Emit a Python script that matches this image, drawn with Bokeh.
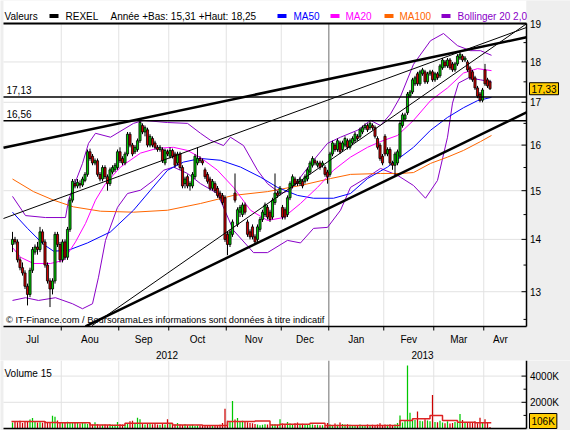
import math
from bokeh.plotting import figure
from bokeh.models import Range1d, Label, BoxAnnotation
from bokeh.layouts import column
from bokeh.embed import file_html
from bokeh.resources import INLINE

FONT = "Liberation Sans"
FS = "10px"
BG = "#eeeeee"
GRID = "#e2e2e2"
GREEN = "#00c800"
RED = "#cc0000"
BLUE = "#0000ff"
MAGENTA = "#ff00ff"
ORANGE = "#ff6600"
PURPLE = "#8a00c8"

# ---------------- categories / ticks ----------------
month_names = ["Jul", "Aou", "Sep", "Oct", "Nov", "Dec", "Jan", "Fev", "Mar", "Avr"]
month_label_pos = [8, 31, 52.5, 74, 96.5, 117, 137.5, 158.5, 178.5, 195.2]
month_start_idx = [20, 43, 63, 86, 108, 127, 149, 169, 189]
year_names = ["2012", "2013"]
year_label_pos = [61.8, 164]
year_start_idx = 127
price_ticks = [13, 14, 15, 16, 17, 18, 19]
price_minor = [12.5, 13.5, 14.5, 15.5, 16.5, 17.5, 18.5]
vol_ticks = [2000000, 4000000]
vol_tick_labels = ["2000K", "4000K"]
vol_minor = [1000000, 3000000]

# ---------------- daily candles (REXEL) ----------------
opens = [13.90, 14.00, 13.95, 13.60, 13.45, 13.35, 13.10, 12.95, 13.40, 13.75,
         13.85, 13.80, 14.15, 13.95, 13.50, 13.20, 13.05, 13.20, 14.10, 13.90,
         13.60, 13.95, 13.65, 14.20, 14.80, 15.15, 15.10, 15.15, 15.12, 15.22,
         15.35, 15.85, 15.75, 15.60, 15.65, 15.35, 15.25, 15.50, 15.30, 15.15,
         15.40, 15.45, 15.50, 15.85, 15.70, 15.60, 15.80, 16.25, 16.00, 15.85,
         15.90, 16.10, 16.45, 16.30, 16.35, 16.00, 16.15, 16.05, 15.95, 15.90,
         15.90, 15.60, 15.85, 15.75, 15.88, 15.80, 15.60, 15.80, 15.50, 15.15,
         15.30, 15.10, 15.10, 15.30, 15.60, 15.70, 15.65, 15.45, 15.35, 15.25,
         15.05, 15.15, 15.05, 14.95, 14.90, 14.85, 14.10, 13.90, 14.10, 14.95,
         14.30, 14.55, 14.50, 14.70, 14.35, 14.15, 14.25, 14.05, 14.00, 14.20,
         14.40, 14.50, 14.65, 14.55, 14.45, 14.75, 14.95, 14.95, 14.65, 14.60,
         14.50, 14.85, 15.10, 15.25, 15.20, 15.15, 15.20, 15.20, 15.25, 15.40,
         15.55, 15.65, 15.55, 15.60, 15.55, 15.50, 15.40, 15.35, 15.80, 16.00,
         15.90, 16.05, 15.90, 16.00, 16.10, 15.95, 16.05, 16.10, 16.20, 16.20,
         16.30, 16.40, 16.45, 16.40, 16.45, 16.40, 16.15, 16.00, 15.75, 16.20,
         15.80, 15.90, 15.60, 15.55, 15.60, 15.75, 16.45, 16.60, 16.75, 17.15,
         17.25, 17.45, 17.70, 17.45, 17.70, 17.75, 17.50, 17.70, 17.75, 17.55,
         17.70, 17.65, 17.85, 18.00, 17.90, 18.05, 17.95, 17.80, 17.95, 18.10,
         18.15, 18.05, 18.00, 17.85, 17.75, 17.60, 17.35, 17.20, 17.05, 17.80,
         17.55, 17.50]
highs = [14.15, 14.05, 14.00, 13.65, 13.55, 13.40, 13.15, 13.45, 13.85, 13.90,
         13.95, 14.25, 14.20, 14.00, 13.55, 13.25, 13.25, 14.15, 14.15, 13.95,
         14.00, 14.00, 14.25, 14.85, 15.25, 15.25, 15.25, 15.22, 15.30, 15.40,
         15.90, 15.92, 15.80, 15.70, 15.70, 15.40, 15.55, 15.55, 15.35, 15.50,
         15.55, 15.60, 15.90, 15.95, 15.75, 15.85, 16.30, 16.30, 16.05, 16.00,
         16.15, 16.56, 16.50, 16.45, 16.40, 16.25, 16.20, 16.10, 16.00, 16.00,
         15.95, 15.92, 15.90, 15.95, 15.92, 15.85, 15.85, 15.85, 15.55, 15.30,
         15.35, 15.20, 15.40, 15.80, 15.95, 15.75, 15.70, 15.50, 15.40, 15.30,
         15.25, 15.20, 15.10, 15.00, 14.95, 14.90, 14.15, 14.20, 14.40, 15.37,
         14.65, 14.70, 14.75, 14.75, 14.40, 14.20, 14.30, 14.10, 14.30, 14.45,
         14.60, 14.75, 14.70, 14.60, 14.85, 15.37, 15.00, 15.10, 14.70, 14.65,
         14.90, 15.20, 15.35, 15.30, 15.25, 15.30, 15.25, 15.35, 15.50, 15.65,
         15.75, 15.70, 15.65, 15.65, 15.65, 15.55, 15.45, 15.85, 16.10, 16.05,
         16.15, 16.10, 16.10, 16.20, 16.15, 16.15, 16.20, 16.30, 16.25, 16.40,
         16.45, 16.50, 16.50, 16.55, 16.50, 16.45, 16.20, 16.05, 15.80, 16.25,
         15.95, 15.95, 15.65, 15.85, 15.90, 16.55, 16.75, 16.75, 17.25, 17.30,
         17.60, 17.65, 17.75, 17.80, 17.85, 17.80, 17.75, 17.80, 17.80, 17.75,
         17.75, 17.95, 18.10, 18.05, 18.10, 18.10, 18.00, 18.00, 18.20, 18.25,
         18.20, 18.15, 18.05, 17.90, 17.80, 17.65, 17.40, 17.25, 17.35, 17.95,
         17.60, 17.55]
lows = [13.75, 13.90, 13.55, 13.40, 13.30, 13.05, 12.75, 12.90, 13.35, 13.70,
        13.70, 13.75, 13.90, 13.45, 13.15, 12.72, 12.95, 13.15, 13.85, 13.55,
        13.55, 13.60, 13.60, 14.15, 14.75, 15.05, 15.05, 15.05, 15.08, 15.18,
        15.30, 15.65, 15.55, 15.55, 15.30, 15.20, 15.20, 15.25, 15.00, 15.10,
        15.35, 15.40, 15.45, 15.60, 15.55, 15.55, 15.75, 15.95, 15.75, 15.80,
        15.85, 16.05, 16.25, 16.20, 15.95, 15.95, 15.95, 15.90, 15.85, 15.85,
        15.60, 15.55, 15.75, 15.70, 15.70, 15.50, 15.55, 15.45, 15.05, 15.05,
        15.05, 15.00, 15.05, 15.25, 15.55, 15.60, 15.55, 15.25, 15.15, 15.00,
        15.00, 14.95, 14.85, 14.80, 14.70, 13.95, 13.69, 13.85, 14.05, 14.75,
        14.25, 14.45, 14.45, 14.50, 14.05, 14.00, 14.00, 13.90, 13.95, 14.15,
        14.35, 14.45, 14.40, 14.35, 14.40, 14.70, 14.85, 14.90, 14.40, 14.40,
        14.45, 14.80, 15.05, 15.10, 15.10, 15.10, 15.05, 15.15, 15.20, 15.35,
        15.50, 15.55, 15.50, 15.45, 15.50, 15.30, 15.15, 15.30, 15.75, 15.85,
        15.85, 15.80, 15.85, 15.95, 15.90, 15.90, 16.00, 16.05, 16.10, 16.15,
        16.25, 16.35, 16.30, 16.35, 16.35, 16.15, 15.90, 15.65, 15.55, 15.75,
        15.75, 15.55, 15.45, 15.31, 15.55, 15.70, 16.40, 16.55, 16.70, 17.10,
        17.20, 17.40, 17.40, 17.40, 17.65, 17.45, 17.45, 17.65, 17.50, 17.50,
        17.55, 17.60, 17.80, 17.85, 17.85, 17.80, 17.75, 17.75, 17.90, 18.05,
        18.00, 18.00, 17.75, 17.55, 17.50, 17.30, 17.10, 17.00, 17.00, 17.40,
        17.35, 17.30]
closes = [14.00, 13.95, 13.60, 13.45, 13.35, 13.10, 12.95, 13.40, 13.80, 13.85,
          13.80, 14.15, 13.95, 13.50, 13.20, 13.05, 13.20, 14.10, 13.90, 13.60,
          13.95, 13.65, 14.20, 14.80, 15.20, 15.10, 15.18, 15.12, 15.25, 15.35,
          15.85, 15.70, 15.60, 15.65, 15.35, 15.25, 15.50, 15.30, 15.15, 15.45,
          15.50, 15.55, 15.85, 15.65, 15.60, 15.80, 16.25, 16.00, 15.80, 15.95,
          16.10, 16.52, 16.30, 16.40, 16.00, 16.20, 16.00, 15.95, 15.90, 15.95,
          15.65, 15.88, 15.80, 15.88, 15.75, 15.55, 15.80, 15.50, 15.10, 15.25,
          15.10, 15.15, 15.35, 15.75, 15.70, 15.65, 15.60, 15.30, 15.20, 15.05,
          15.20, 15.00, 14.90, 14.85, 14.75, 14.00, 13.90, 14.15, 14.35, 14.80,
          14.60, 14.65, 14.70, 14.55, 14.10, 14.05, 14.05, 13.95, 14.25, 14.40,
          14.55, 14.70, 14.45, 14.40, 14.80, 14.95, 14.90, 15.05, 14.45, 14.45,
          14.85, 15.15, 15.30, 15.15, 15.15, 15.25, 15.10, 15.30, 15.45, 15.60,
          15.70, 15.60, 15.60, 15.50, 15.60, 15.35, 15.30, 15.80, 16.05, 15.90,
          16.10, 15.85, 16.05, 16.15, 15.95, 16.10, 16.15, 16.25, 16.15, 16.35,
          16.40, 16.45, 16.35, 16.50, 16.40, 16.20, 15.95, 15.70, 15.60, 15.80,
          15.90, 15.60, 15.55, 15.80, 15.85, 16.50, 16.70, 16.70, 17.20, 17.25,
          17.55, 17.60, 17.45, 17.75, 17.80, 17.50, 17.70, 17.75, 17.55, 17.70,
          17.60, 17.90, 18.05, 17.90, 18.05, 17.85, 17.80, 17.95, 18.15, 18.20,
          18.05, 18.10, 17.80, 17.60, 17.55, 17.35, 17.15, 17.05, 17.30, 17.45,
          17.40, 17.33]
# volumes in thousands of shares
volumes_k = [450, 520, 480, 600, 420, 500, 560, 680, 800, 520, 450, 480,
             430, 560, 500, 470, 980, 900, 620, 480, 420, 450, 520, 480,
             470, 430, 420, 380, 460, 400, 350, 420, 300, 480, 320, 250,
             280, 300, 260, 320, 290, 280, 500, 330, 300, 280, 420, 560,
             600, 380, 820, 700, 420, 300, 350, 380, 320, 420, 300, 280,
             350, 300, 700, 420, 380, 300, 420, 300, 260, 330, 250, 240,
             280, 200, 250, 230, 260, 220, 200, 240, 230, 190, 250, 280,
             420, 1500, 600, 520, 2100, 680, 800, 560, 600, 520, 480, 420,
             400, 350, 300, 250, 280, 320, 300, 250, 300, 320, 280, 700,
             380, 320, 500, 380, 300, 400, 450, 320, 360, 300, 280, 260,
             300, 260, 280, 250, 240, 220, 420, 300, 250, 380, 280, 450,
             350, 300, 320, 280, 260, 240, 250, 300, 270, 250, 300, 260,
             280, 250, 310, 400, 260, 300, 280, 320, 250, 300, 420, 1000,
             450, 600, 4800, 1200, 700, 650, 1300, 600, 550, 700, 620, 550,
             2550, 500, 480, 600, 450, 400, 550, 380, 420, 500, 450, 1100,
             650, 500, 480, 450, 420, 550, 400, 820, 450, 700, 500, 106]

# ---------------- indicators (read at sample days) ----------------
ma20_idx = [0, 3.2, 8.4, 15.2, 20.4, 25.2, 29.2, 33.2, 37.2, 43.2, 51.2, 58, 64.4, 70, 75.2,
            82, 88.4, 95.2, 102, 108.4, 115.2, 122, 128.4, 135.2, 142, 147.2, 154, 160.4,
            167.2, 174, 180.4, 186, 191.6]
ma20_val = [13.84, 13.65, 13.53, 13.53, 13.59, 13.95, 14.32, 14.80, 15.15, 15.51, 15.82, 15.93,
            15.95, 15.88, 15.72, 15.44, 15.07, 14.59, 14.38, 14.44, 14.73, 15.07, 15.44, 15.73,
            15.95, 16.08, 16.22, 16.57, 17.04, 17.35, 17.72, 17.83, 17.78]
ma50_idx = [0, 6, 12.4, 16.4, 22, 30, 39.2, 48.4, 55.2, 62, 68.4, 75.2, 83.2, 91.2, 99.2, 106,
            114, 120.4, 128.4, 135.2, 142, 150, 155.2, 160.4, 167.2, 174, 180.4, 186, 191.6]
ma50_val = [14.55, 14.22, 13.90, 13.77, 13.78, 13.93, 14.15, 14.59, 15.01, 15.44, 15.62, 15.70,
            15.66, 15.51, 15.29, 15.07, 14.90, 14.84, 14.84, 14.94, 15.26, 15.51, 15.73, 15.95,
            16.34, 16.64, 16.87, 17.04, 17.12]
ma100_idx = [0, 8.4, 16.4, 24.4, 35.2, 48.4, 62, 75.2, 88.4, 102, 115.2, 127.2, 135.2, 147.2,
             155.2, 160.4, 167.2, 174, 180.4, 187.2, 191.6]
ma100_val = [15.25, 14.98, 14.80, 14.66, 14.57, 14.55, 14.59, 14.73, 14.90, 14.98, 15.11, 15.26,
             15.35, 15.37, 15.37, 15.39, 15.59, 15.73, 15.88, 16.08, 16.22]
boll_up_idx = [0, 5.2, 13.2, 21.2, 22.4, 28, 30.4, 33.2, 39.2, 48.4, 52.4, 62, 70, 75.2, 79.2,
               84.4, 87.2, 92.4, 98, 102, 107.2, 111.2, 115.2, 120.4, 126, 131.2, 138, 143.2,
               147.2, 151.2, 155.2, 160.4, 167.2, 172.4, 178, 183.2, 187.2, 191.6]
boll_up_val = [14.88, 14.48, 14.44, 14.44, 14.80, 15.59, 16.04, 16.27, 16.18, 16.50, 16.57, 16.52,
               16.50, 16.27, 16.11, 15.99, 16.18, 15.99, 15.44, 15.15, 14.94, 15.01, 15.29, 15.66,
               16.04, 16.18, 16.34, 16.57, 16.45, 16.72, 17.14, 17.94, 18.55, 18.74, 18.42, 18.29,
               18.29, 18.17]
boll_lo_idx = [0, 5.2, 10.4, 17.2, 24, 28, 32, 34.4, 37.2, 42, 46, 51.2, 56.4, 60.4, 64.4, 70,
               75.2, 82, 88.4, 96.4, 102, 110, 115.2, 120.4, 126, 131.2, 135.2, 142, 147.2, 154,
               160.4, 165.2, 170, 174, 176, 178.4, 182.4, 187.2, 191.6]
boll_lo_val = [12.84, 12.89, 12.84, 12.89, 12.78, 12.69, 12.78, 13.27, 13.98, 14.65, 14.94, 15.01,
               15.22, 15.44, 15.51, 15.37, 15.15, 14.94, 14.18, 13.74, 13.74, 13.98, 13.93, 14.22,
               14.24, 14.59, 15.07, 15.29, 15.48, 15.33, 15.11, 14.84, 15.22, 16.18, 16.98, 17.47,
               17.60, 17.55, 17.50]
vol_ma_idx = [-0.4, 13, 18, 31, 39, 45, 64, 76, 86, 97, 103, 107, 119, 125, 155, 160, 167, 172,
              178, 185, 191.5]
vol_ma_k = [530, 460, 430, 270, 250, 400, 270, 230, 530, 570, 270, 330, 400, 230, 620, 750,
            1000, 620, 480, 430, 430]

# ---------------- drawn levels / trend lines ----------------
hlevels = [17.13, 16.56]
hlevel_text = ["17,13", "16,56"]
last_price_text = "17,33"
last_volume_text = "106K"
trend_thick_upper = ([-3.6, 205.6], [15.94, 18.64])
trend_thin_a = ([-3.6, 205.6], [14.42, 18.90])
trend_thin_b = ([31.8, 205.6], [12.39, 19.0])
trend_thick_lower = ([29.2, 205.6], [12.375, 16.76])

header_texts = ["Valeurs", "REXEL", "Année +Bas: 15,31 +Haut: 18,25", "MA50", "MA20", "MA100",
                "Bollinger 20 2,0"]
header_colors = ["#000000", "#000000", "#000000", BLUE, MAGENTA, ORANGE, PURPLE]
header_text_x = [4, 65, 110, 293, 345, 399, 457]
swatch_x = [49, 277, 330, 384, 441]
swatch_colors = ["#000000", BLUE, MAGENTA, ORANGE, PURPLE]
watermark = "© IT-Finance.com / BoursoramaLes informations sont données à titre indicatif"

# ---------------- geometry (whole canvas is the frame) ----------------
W, H1, H2 = 570, 360, 70
X0, X1 = -4.8, 223.2                 # 2.5 px per trading day
Y_TOP, Y_BOT = 19.637, 11.793        # log scale, 706 px per ln unit
K = H1 / math.log(Y_TOP / Y_BOT)


def px_x(xpx):
    return X0 + xpx * (X1 - X0) / W


def px_price(ypx):
    return Y_TOP * math.exp(-ypx / K)


PL, PR = px_x(3), px_x(526)          # plot area left / right (axis line)
PB, PT = px_price(326), px_price(23)  # plot area bottom / header line
n = len(closes)
idx = list(range(n))
month_bounds = [m - 0.5 for m in month_start_idx]
year_bound = year_start_idx - 0.5


def lab(fig, text, x, y, xu="screen", yu="screen", align="left", base="middle",
        color="black", size=FS, **kw):
    fig.add_layout(Label(x=x, y=y, x_units=xu, y_units=yu, text=text, text_align=align,
                         text_baseline=base, text_font=FONT, text_font_size=size,
                         text_color=color, **kw))


p = figure(width=W, height=H1, x_range=Range1d(X0, X1), y_range=Range1d(Y_BOT, Y_TOP),
           y_axis_type="log", x_axis_location=None, y_axis_location=None,
           toolbar_location=None, output_backend="svg", min_border=0,
           background_fill_color=BG, border_fill_color=BG, outline_line_color=None)
p.grid.visible = False

# white chart area (header included)
p.quad(left=[PL], right=[PR], bottom=[PB], top=[Y_TOP], fill_color="white", line_color=None)
# grid
p.segment(x0=[PL] * 7, y0=price_ticks, x1=[PR] * 7, y1=price_ticks, line_color=GRID, line_width=1)
p.segment(x0=month_bounds, y0=[PB] * len(month_bounds), x1=month_bounds,
          y1=[PT] * len(month_bounds), line_color=GRID, line_width=1)
p.segment(x0=[year_bound], y0=[PB], x1=[year_bound], y1=[PT], line_color="#a0a0a0",
          line_width=1.5)

# indicators
p.line(boll_up_idx, boll_up_val, line_color=PURPLE, line_width=1)
p.line(boll_lo_idx, boll_lo_val, line_color=PURPLE, line_width=1)
p.line(ma100_idx, ma100_val, line_color=ORANGE, line_width=1)
p.line(ma50_idx, ma50_val, line_color=BLUE, line_width=1)
p.line(ma20_idx, ma20_val, line_color=MAGENTA, line_width=1)

# candles
ccol = [GREEN if c >= o else RED for o, c in zip(opens, closes)]
tops = [max(o, c) for o, c in zip(opens, closes)]
bots = [min(o, c) for o, c in zip(opens, closes)]
p.segment(x0=idx, y0=lows, x1=idx, y1=highs, line_color="black", line_width=1)
p.vbar(x=idx, width=0.85, top=tops, bottom=bots, fill_color=ccol, line_color="black",
       line_width=0.8)

# horizontal levels
for lv, txt in zip(hlevels, hlevel_text):
    p.segment(x0=[PL], y0=[lv], x1=[PR], y1=[lv], line_color="black", line_width=1.5)
    lab(p, txt, 6, lv, yu="data", y_offset=7)

# trend lines
p.line(*trend_thick_upper, line_color="black", line_width=2.5)
p.line(*trend_thin_a, line_color="black", line_width=1)
p.line(*trend_thin_b, line_color="black", line_width=1)
p.line(*trend_thick_lower, line_color="black", line_width=2.5)

# cover anything drawn below the plot bottom / right of the axis
p.quad(left=[X0], right=[X1], bottom=[Y_BOT], top=[PB], fill_color=BG, line_color=None)
p.quad(left=[PR], right=[X1], bottom=[Y_BOT], top=[Y_TOP], fill_color=BG, line_color=None)

# axes (drawn)
p.segment(x0=[PR], y0=[PB], x1=[PR], y1=[PT], line_color="black", line_width=1.5)
p.segment(x0=[PL], y0=[PB], x1=[PR], y1=[PB], line_color="black", line_width=1.5)
p.segment(x0=[PL], y0=[PT], x1=[PR], y1=[PT], line_color="black", line_width=2)
tick_major_left = px_x(521)
tick_minor_left = px_x(523)
p.segment(x0=[tick_major_left] * 7, y0=price_ticks, x1=[PR] * 7, y1=price_ticks,
          line_color="black", line_width=1)
p.segment(x0=[tick_minor_left] * 7, y0=price_minor, x1=[PR] * 7, y1=price_minor,
          line_color="black", line_width=1)
tick_bottom = px_price(330)
p.segment(x0=month_bounds, y0=[PB] * len(month_bounds), x1=month_bounds,
          y1=[tick_bottom] * len(month_bounds), line_color="black", line_width=1)
for t in price_ticks:
    lab(p, str(t), 529.5, t, yu="data")

# header
for t, c, x in zip(header_texts, header_colors, header_text_x):
    lab(p, t, x, H1 - 15.5, color=c)
for x, c in zip(swatch_x, swatch_colors):
    p.add_layout(BoxAnnotation(left=x, right=x + 9, bottom=H1 - 17.5, top=H1 - 13.5,
                               left_units="screen", right_units="screen",
                               bottom_units="screen", top_units="screen",
                               fill_color=c, fill_alpha=1, line_color=None))

# watermark
lab(p, watermark, 5.5, H1 - 319.5, size="9.3px")

# last price box
lab(p, last_price_text, 529, closes[-1], yu="data",
    background_fill_color="#ffcc00", border_line_color="black", padding=2)

# month / year labels
for m, xpos in zip(month_names, month_label_pos):
    lab(p, m, xpos, H1 - 338.5, xu="data", align="center")
for yname, xpos in zip(year_names, year_label_pos):
    lab(p, yname, xpos, H1 - 354.5, xu="data", align="center")

# ---------------- volume panel ----------------
VPX = 13.1e-6                        # px per share
V_BOT = -2 / VPX
V_TOP = (H2 - 2) / VPX
v = figure(width=W, height=H2, x_range=p.x_range, y_range=Range1d(V_BOT, V_TOP),
           x_axis_location=None, y_axis_location=None, toolbar_location=None,
           output_backend="svg", min_border=0, background_fill_color=BG,
           border_fill_color=BG, outline_line_color=None)
v.grid.visible = False
v.quad(left=[PL], right=[PR], bottom=[0], top=[V_TOP], fill_color="white", line_color=None)
v.segment(x0=[PL] * 2, y0=vol_ticks, x1=[PR] * 2, y1=vol_ticks, line_color=GRID, line_width=1)
v.segment(x0=month_bounds, y0=[0] * len(month_bounds), x1=month_bounds,
          y1=[V_TOP] * len(month_bounds), line_color=GRID, line_width=1)
v.segment(x0=[year_bound], y0=[0], x1=[year_bound], y1=[V_TOP], line_color="#a0a0a0",
          line_width=1.5)
vols = [k * 1000 for k in volumes_k]
v.vbar(x=idx, width=0.5, top=vols, bottom=0, fill_color=ccol, line_color=None)
v.step(vol_ma_idx, [k * 1000 for k in vol_ma_k], mode="after", line_color="#dd2222",
       line_width=1.5)
v.segment(x0=[PR], y0=[0], x1=[PR], y1=[V_TOP], line_color="black", line_width=1.5)
v.segment(x0=[PL], y0=[0], x1=[PR], y1=[0], line_color="black", line_width=1.5)
v.segment(x0=[tick_major_left] * 2, y0=vol_ticks, x1=[PR] * 2, y1=vol_ticks,
          line_color="black", line_width=1)
v.segment(x0=[tick_minor_left] * 2, y0=vol_minor, x1=[PR] * 2, y1=vol_minor,
          line_color="black", line_width=1)
for t, tl in zip(vol_ticks, vol_tick_labels):
    lab(v, tl, 529.5, t, yu="data")
lab(v, "Volume 15", 4, H2 - 12.6)
lab(v, last_volume_text, 529, H2 - 60.5,
    background_fill_color="#ffcc00", border_line_color="black", padding=2)

layout = column(p, v, spacing=0)
open("out.html", "w").write(file_html(layout, INLINE))
